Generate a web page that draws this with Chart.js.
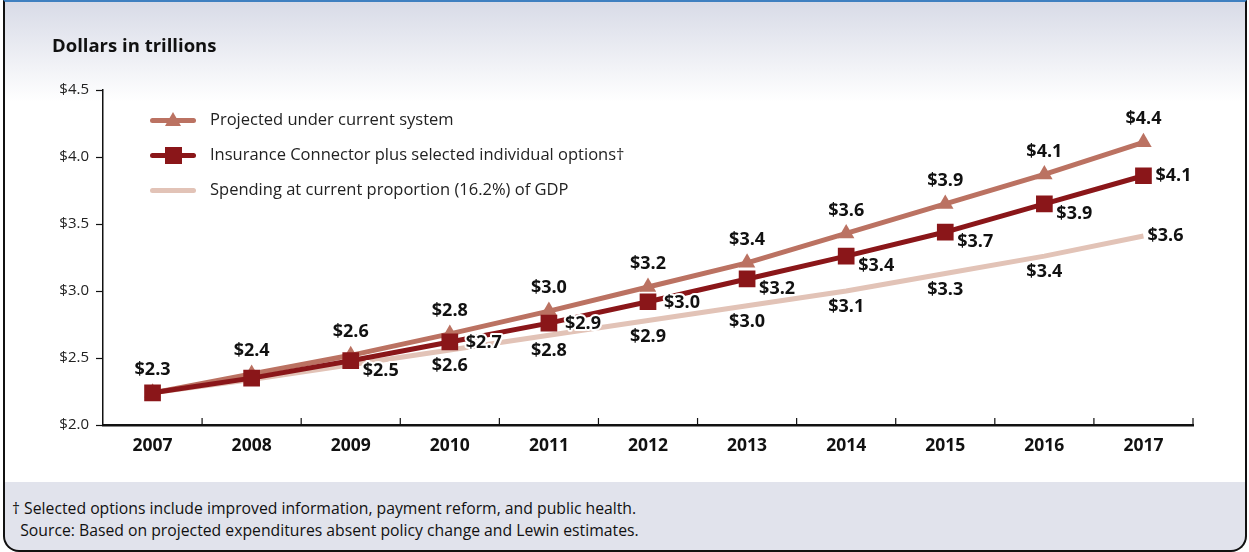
<!DOCTYPE html>
<html>
<head>
<meta charset="utf-8">
<script src="https://cdn.jsdelivr.net/npm/chart.js@4.4.0/dist/chart.umd.min.js"></script>
<style>
  html, body { margin: 0; padding: 0; background: #fff; }
  #wrap { position: relative; width: 1249px; height: 552px; overflow: hidden; font-family: 'Open Sans', 'Noto Sans', sans-serif; }
  #box {
    position: absolute; left: 3px; top: 0; width: 1240px; height: 548px;
    border: 2px solid #111; border-top: 2px solid #3f80c0;
    border-radius: 0 0 16px 16px;
    background: linear-gradient(to bottom, #d8dbe7 0px, #ffffff 100px, #ffffff 480px, #e1e3ec 480px);
  }
  #chart { position: absolute; left: 0; top: 0; }
  #title { position: absolute; left: 52px; top: 32px; font-weight: bold; font-size: 18.5px; color: #111; }
  #legend { position: absolute; left: 150px; top: 103px; }
  .row { position: relative; height: 35px; }
  .sw { position: absolute; left: 0; top: 5px; width: 46px; height: 24px; }
  .ln { position: absolute; left: 0; top: 10px; width: 46px; height: 5px; border-radius: 3px; }
  .tri { position: absolute; left: 15px; top: 4px; width: 0; height: 0; border-left: 8px solid transparent; border-right: 8px solid transparent; border-bottom: 14px solid; }
  .sq { position: absolute; left: 15px; top: 4px; width: 17px; height: 17px; }
  .tx { position: absolute; left: 60px; top: 4px; font-size: 16.5px; color: #222; white-space: nowrap; }
  #foot { position: absolute; left: 12px; top: 497px; font-size: 15.75px; color: #111; line-height: 22px; }
</style>
</head>
<body>
<div id="wrap">
  <div id="box"></div>
  <canvas id="chart" width="1249" height="482"></canvas>
  <div id="title">Dollars in trillions</div>
  <div id="legend"></div>
  <div id="foot">† Selected options include improved information, payment reform, and public health.<br>&nbsp;&nbsp;Source: Based on projected expenditures absent policy change and Lewin estimates.</div>
</div>
<script>
// 年份
var years = ['2007', '2008', '2009', '2010', '2011', '2012', '2013', '2014', '2015', '2016', '2017'];

// 现行制度下的预测
var projected = [2.24, 2.38, 2.52, 2.68, 2.85, 3.03, 3.21, 3.43, 3.65, 3.87, 4.11];
var projectedLabels = ['$2.3', '$2.4', '$2.6', '$2.8', '$3.0', '$3.2', '$3.4', '$3.6', '$3.9', '$4.1', '$4.4'];

// Insurance Connector 方案
var connector = [2.24, 2.35, 2.48, 2.62, 2.76, 2.92, 3.09, 3.26, 3.44, 3.65, 3.86];
var connectorLabels = [null, null, '$2.5', '$2.7', '$2.9', '$3.0', '$3.2', '$3.4', '$3.7', '$3.9', '$4.1'];

// 按 GDP 当前比例 (16.2%)
var gdpShare = [2.24, 2.34, 2.45, 2.56, 2.67, 2.78, 2.89, 3.00, 3.13, 3.26, 3.41];
var gdpLabels = [null, null, null, '$2.6', '$2.8', '$2.9', '$3.0', '$3.1', '$3.3', '$3.4', '$3.6'];

var seriesNames = [
  'Projected under current system',
  'Insurance Connector plus selected individual options†',
  'Spending at current proportion (16.2%) of GDP'
];

var yTicks = [2.0, 2.5, 3.0, 3.5, 4.0, 4.5];

var cTri = '#bb7262';
var cSq = '#8a1619';
var cGdp = '#e2c3b7';

// 数据标签
var valueLabelPlugin = {
  id: 'valueLabels',
  afterDatasetsDraw: function(chart) {
    var ctx = chart.ctx;
    ctx.save();
    ctx.font = 'bold 18px "Open Sans", sans-serif';
    ctx.textBaseline = 'middle';
    ctx.lineJoin = 'round';
    chart.data.datasets.forEach(function(ds, di) {
      var meta = chart.getDatasetMeta(di);
      var n = ds.data.length;
      meta.data.forEach(function(pt, i) {
        var txt = ds.valueLabels[i];
        if (!txt) return;
        var x = pt.x, y = pt.y;
        if (ds.labelPos === 'above') {
          ctx.textAlign = 'center'; y -= 23;
        } else if (ds.labelPos === 'right') {
          ctx.textAlign = 'left'; x += 12; y += (i === n - 1) ? 0 : 10;
          if (i >= 3 && i <= 5) { x += 4; y -= 9; }
        } else {
          if (i === n - 1) { ctx.textAlign = 'left'; x += 4; }
          else { ctx.textAlign = 'center'; y += 16; }
        }
        ctx.strokeStyle = '#fff';
        ctx.lineWidth = 4;
        ctx.strokeText(txt, x, y);
        ctx.fillStyle = '#111';
        ctx.fillText(txt, x, y);
      });
    });
    ctx.restore();
  }
};

// x 轴向上的刻度线
var xTickPlugin = {
  id: 'xTicks',
  afterDraw: function(chart) {
    var xs = chart.scales.x, area = chart.chartArea, ctx = chart.ctx;
    ctx.save();
    ctx.strokeStyle = '#111';
    ctx.lineWidth = 1.2;
    for (var i = 1; i <= years.length; i++) {
      var px = i < years.length
        ? (xs.getPixelForTick(i - 1) + xs.getPixelForTick(i)) / 2
        : area.right;
      ctx.beginPath();
      ctx.moveTo(px, area.bottom);
      ctx.lineTo(px, area.bottom - 7);
      ctx.stroke();
    }
    ctx.restore();
  }
};

var ctx = document.getElementById('chart').getContext('2d');
var chart = new Chart(ctx, {
  type: 'line',
  data: {
    labels: years,
    datasets: [{
      label: seriesNames[0],
      data: projected,
      valueLabels: projectedLabels,
      labelPos: 'above',
      borderColor: cTri,
      backgroundColor: cTri,
      borderWidth: 5,
      pointStyle: 'triangle',
      pointRadius: 9.5,
      pointBorderWidth: 0,
      order: 2
    }, {
      label: seriesNames[1],
      data: connector,
      valueLabels: connectorLabels,
      labelPos: 'right',
      borderColor: cSq,
      backgroundColor: cSq,
      borderWidth: 5,
      pointStyle: 'rect',
      pointRadius: 11.8,
      pointBorderWidth: 0,
      order: 1
    }, {
      label: seriesNames[2],
      data: gdpShare,
      valueLabels: gdpLabels,
      labelPos: 'below',
      borderColor: cGdp,
      backgroundColor: cGdp,
      borderWidth: 5,
      pointRadius: 0,
      order: 3
    }]
  },
  options: {
    responsive: false,
    animation: false,
    layout: { padding: { left: 52, right: 56, top: 90, bottom: 22 } },
    plugins: {
      legend: { display: false },
      tooltip: { enabled: false }
    },
    elements: { line: { tension: 0, borderCapStyle: 'butt' } },
    scales: {
      x: {
        offset: true,
        grid: { display: false },
        border: { display: true, color: '#111', width: 2.5 },
        ticks: { color: '#111', padding: 3, font: { family: '"Open Sans", sans-serif', size: 17.5, weight: 'bold' } }
      },
      y: {
        min: 2,
        max: 4.5,
        afterBuildTicks: function(scale) {
          scale.ticks = yTicks.map(function(v) { return { value: v }; });
        },
        afterFit: function(scale) { scale.width = 51; },
        grid: { drawOnChartArea: false, drawTicks: true, tickLength: 7, color: '#111', tickWidth: 1.2 },
        border: { display: true, color: '#111', width: 1.5 },
        ticks: {
          color: '#222',
          padding: 7,
          font: { family: '"Open Sans", sans-serif', size: 15 },
          callback: function(v) { return '$' + Number(v).toFixed(1); }
        }
      }
    }
  },
  plugins: [valueLabelPlugin, xTickPlugin]
});

// 图例 (放在图表区内)
var legendEl = document.getElementById('legend');
chart.data.datasets.forEach(function(ds, i) {
  var row = document.createElement('div');
  row.className = 'row';
  var mk = '';
  if (ds.pointStyle === 'triangle') mk = '<div class="tri" style="border-bottom-color:' + ds.borderColor + '"></div>';
  if (ds.pointStyle === 'rect') mk = '<div class="sq" style="background:' + ds.borderColor + '"></div>';
  row.innerHTML = '<div class="sw"><div class="ln" style="background:' + ds.borderColor + '"></div>' + mk + '</div>' +
    '<div class="tx">' + ds.label + '</div>';
  legendEl.appendChild(row);
});
</script>
</body>
</html>
